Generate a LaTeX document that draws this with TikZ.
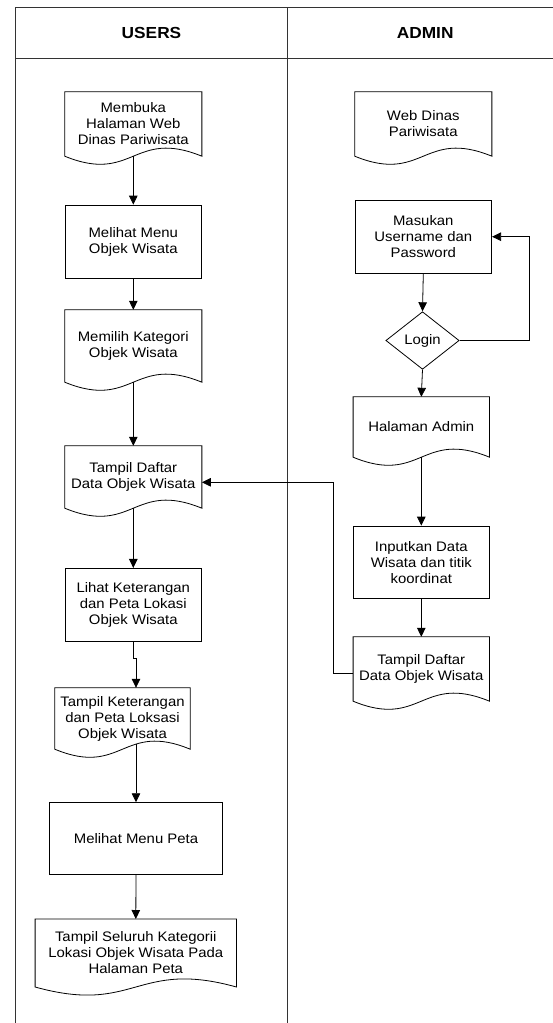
\documentclass[tikz,border=0pt]{standalone}
\usepackage{fontspec}
\setmainfont[FakeStretch=1.08]{Liberation Sans}
\usetikzlibrary{arrows.meta,shapes.geometric,calc}
\begin{document}
\begin{tikzpicture}[x=1pt,y=-1pt,
  every node/.style={font=\fontsize{13.8}{16}\selectfont, align=center, inner sep=0pt},
  frameline/.style={draw=black!80, line width=0.9pt},
  header/.style={font=\fontsize{16}{18}\selectfont\bfseries},
  procbox/.style={draw, rectangle, line width=0.8pt},
  docbox/.style={rectangle},
  decision/.style={draw, diamond, line width=0.8pt},
  outline/.style={line width=0.8pt, line join=miter},
  flow/.style={line width=0.8pt, -{Triangle[length=9pt,width=8.5pt]}}]

\useasboundingbox (0,0) rectangle (553,1023);
\clip (0,0) rectangle (553,1023);
\fill[white] (0,0) rectangle (553,1023);

% swimlane frame
\draw[frameline] (15.5,7) rectangle (563,1040);
\draw[frameline] (15.5,58.6) -- (563,58.6);
\draw[frameline] (287.5,7) -- (287.5,1040);
\node[header] (hu) at (151.5,32.8) {USERS};
\node[header] (ha) at (425.2,32.8) {ADMIN};

% USERS lane
\node[docbox, minimum width=136.7pt, minimum height=64pt] (u1) at (133.3,124) {Membuka\\Halaman Web\\Dinas Pariwisata};
\node[procbox, minimum width=136.7pt, minimum height=73.3pt] (u2) at (133.3,241.7) {Melihat Menu\\Objek Wisata};
\node[docbox, minimum width=136.7pt, minimum height=72pt] (u3) at (133.3,346) {Memilih Kategori\\Objek Wisata};
\node[docbox, minimum width=136.7pt, minimum height=62pt] (u4) at (133.3,477) {Tampil Daftar\\Data Objek Wisata};
\node[procbox, minimum width=136.7pt, minimum height=73.3pt] (u5) at (133.3,605) {Lihat Keterangan\\dan Peta Lokasi\\Objek Wisata};
\node[docbox, minimum width=135pt, minimum height=61pt] (u6) at (122.5,718.5) {Tampil Keterangan\\dan Peta Loksasi\\Objek Wisata};
\node[procbox, minimum width=173.3pt, minimum height=71.3pt] (u7) at (136,838.3) {Melihat Menu Peta};
\node[docbox, minimum width=201pt, minimum height=67.6pt] (u8) at (135.8,953) {Tampil Seluruh Kategorii\\Lokasi Objek Wisata Pada\\Halaman Peta};

% ADMIN lane
\node[docbox, minimum width=136.7pt, minimum height=64pt] (a1) at (423.3,124) {Web Dinas\\Pariwisata};
\node[procbox, minimum width=136.7pt, minimum height=73.3pt] (a2) at (423.3,236.7) {Masukan\\Username dan\\Password};
\node[decision, minimum width=73.3pt, minimum height=57.6pt] (a3) at (422.5,340.5) {Login};
\node[docbox, minimum width=136pt, minimum height=60pt] (a4) at (421.3,427) {Halaman Admin};
\node[procbox, minimum width=136pt, minimum height=72.3pt] (a5) at (421.3,562.2) {Inputkan Data\\Wisata dan titik\\koordinat};
\node[docbox, minimum width=136pt, minimum height=64pt] (a6) at (421.3,669) {Tampil Daftar\\Data Objek Wisata};

% document outlines with a wavy lower edge
\foreach \n in {u1,u3,u4,u6,u8,a1,a4,a6}
  \draw[outline] (\n.south west) -- (\n.north west) -- (\n.north east) -- (\n.south east)
    .. controls ($(\n.south)+(0,-28)$) and ($(\n.south)+(0,28)$) .. (\n.south west) -- cycle;

% USERS flow
\draw[flow] (u1.south) -- (u2.north);
\draw[flow] (u2.south) -- (u3.north);
\draw[flow] (u3.south) -- (u4.north);
\draw[flow] (u4.south) -- (u5.north);
\draw[flow] (u5.south) -- ++(0,16.5) -| ([xshift=13.5pt]u6.north);
\draw[flow] ([yshift=5pt]u6.south -| u7.north) -- (u7.north);
\draw[flow] (u7.south) -- (u8.north);

% ADMIN flow
\draw[flow] (a2.south) -- (a3.north);
\draw[flow] (a3.east) -- ++(69.5,0) |- (a2.east);
\draw[flow] (a3.south) -- (a4.north);
\draw[flow] (a4.south) -- (a5.north);
\draw[flow] (a5.south) -- (a6.north);
\draw[flow] ([yshift=-4.3pt]a6.west) -- ++(-20,0) |- ([yshift=-5.3pt]u4.east);

\end{tikzpicture}
\end{document}
